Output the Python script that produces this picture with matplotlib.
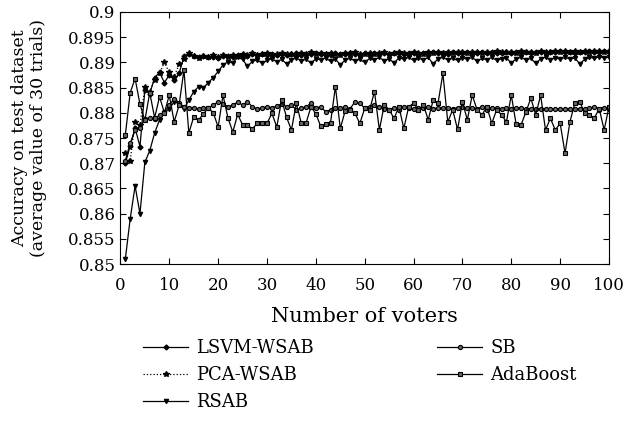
import matplotlib
matplotlib.use("Agg")
import matplotlib.pyplot as plt
from matplotlib.ticker import FuncFormatter

# number of voters 1..100
voters = list(range(1, 101))

lsvm_wsab = [
    0.8700, 0.8735, 0.8770, 0.8733, 0.8845, 0.8838, 0.8870, 0.8880, 0.8860, 0.8875,
    0.8865, 0.8878, 0.8912, 0.8917, 0.8912, 0.8910, 0.8912, 0.8910, 0.8911, 0.8908,
    0.8912, 0.8913, 0.8910, 0.8914, 0.8915, 0.8912, 0.8916, 0.8914, 0.8917, 0.8915,
    0.8916, 0.8914, 0.8917, 0.8915, 0.8916, 0.8918, 0.8915, 0.8917, 0.8916, 0.8918,
    0.8916, 0.8917, 0.8915, 0.8918, 0.8917, 0.8916, 0.8918, 0.8917, 0.8915, 0.8918,
    0.8917, 0.8919, 0.8916, 0.8918, 0.8917, 0.8919, 0.8918, 0.8916, 0.8919, 0.8918,
    0.8917, 0.8919, 0.8918, 0.8920, 0.8918, 0.8919, 0.8917, 0.8920, 0.8919, 0.8918,
    0.8920, 0.8919, 0.8918, 0.8920, 0.8919, 0.8921, 0.8919, 0.8918, 0.8920, 0.8919,
    0.8921, 0.8919, 0.8920, 0.8918, 0.8921, 0.8920, 0.8919, 0.8921, 0.8920, 0.8922,
    0.8920, 0.8921, 0.8919, 0.8921, 0.8920, 0.8922, 0.8921, 0.8920, 0.8922, 0.8921,
]

pca_wsab = [
    0.8720, 0.8705, 0.8782, 0.8775, 0.8852, 0.8842, 0.8866, 0.8878, 0.8900, 0.8880,
    0.8872, 0.8896, 0.8906, 0.8918, 0.8913, 0.8909, 0.8913, 0.8911, 0.8914, 0.8910,
    0.8914, 0.8911, 0.8915, 0.8913, 0.8916, 0.8914, 0.8918, 0.8915, 0.8916, 0.8918,
    0.8915, 0.8917, 0.8919, 0.8916, 0.8917, 0.8915, 0.8919, 0.8916, 0.8920, 0.8917,
    0.8918, 0.8916, 0.8919, 0.8917, 0.8915, 0.8919, 0.8918, 0.8920, 0.8917, 0.8916,
    0.8919, 0.8917, 0.8918, 0.8920, 0.8916, 0.8918, 0.8920, 0.8919, 0.8917, 0.8920,
    0.8919, 0.8917, 0.8920, 0.8918, 0.8921, 0.8919, 0.8920, 0.8918, 0.8921, 0.8920,
    0.8918, 0.8921, 0.8920, 0.8919, 0.8921, 0.8919, 0.8922, 0.8920, 0.8921, 0.8920,
    0.8919, 0.8922, 0.8920, 0.8921, 0.8919, 0.8922, 0.8921, 0.8920, 0.8922, 0.8921,
    0.8922, 0.8920, 0.8923, 0.8921, 0.8922, 0.8920, 0.8923, 0.8922, 0.8921, 0.8923,
]

rsab = [
    0.8510, 0.8590, 0.8655, 0.8600, 0.8702, 0.8725, 0.8760, 0.8786, 0.8800, 0.8808,
    0.8822, 0.8818, 0.8808, 0.8825, 0.8842, 0.8852, 0.8850, 0.8860, 0.8870, 0.8882,
    0.8895, 0.8901, 0.8899, 0.8910, 0.8906, 0.8892, 0.8902, 0.8905, 0.8898, 0.8904,
    0.8907, 0.8901, 0.8906, 0.8897, 0.8905, 0.8909, 0.8903, 0.8906, 0.8899, 0.8907,
    0.8905, 0.8909, 0.8902, 0.8907, 0.8895, 0.8905, 0.8908, 0.8903, 0.8906, 0.8900,
    0.8908, 0.8905, 0.8910, 0.8903, 0.8907, 0.8899, 0.8909, 0.8906, 0.8910, 0.8904,
    0.8908, 0.8905, 0.8910, 0.8897, 0.8907, 0.8910, 0.8905, 0.8908, 0.8904, 0.8909,
    0.8906, 0.8910, 0.8902, 0.8908, 0.8905, 0.8910, 0.8904, 0.8907, 0.8909, 0.8899,
    0.8907, 0.8910, 0.8905, 0.8908, 0.8898, 0.8907, 0.8910, 0.8905, 0.8909, 0.8906,
    0.8910, 0.8907, 0.8909, 0.8897, 0.8906, 0.8910, 0.8908, 0.8911, 0.8909, 0.8910,
]

sb = [
    0.8705, 0.8740, 0.8765, 0.8770, 0.8788, 0.8790, 0.8788, 0.8795, 0.8802, 0.8815,
    0.8828, 0.8820, 0.8812, 0.8810, 0.8810, 0.8808, 0.8810, 0.8810, 0.8815, 0.8822,
    0.8818, 0.8812, 0.8815, 0.8822, 0.8815, 0.8822, 0.8812, 0.8808, 0.8810, 0.8812,
    0.8810, 0.8813, 0.8818, 0.8812, 0.8815, 0.8806, 0.8809, 0.8812, 0.8819, 0.8809,
    0.8812, 0.8802, 0.8806, 0.8809, 0.8809, 0.8812, 0.8808, 0.8822, 0.8819, 0.8809,
    0.8812, 0.8815, 0.8812, 0.8808, 0.8806, 0.8809, 0.8805, 0.8812, 0.8810, 0.8808,
    0.8810, 0.8809, 0.8811, 0.8808, 0.8810, 0.8809, 0.8810, 0.8808, 0.8810, 0.8811,
    0.8809, 0.8810, 0.8808, 0.8812, 0.8806, 0.8809, 0.8810, 0.8808, 0.8809, 0.8808,
    0.8810, 0.8809, 0.8808, 0.8808, 0.8808, 0.8808, 0.8808, 0.8808, 0.8808, 0.8808,
    0.8808, 0.8808, 0.8808, 0.8808, 0.8808, 0.8809, 0.8812, 0.8806, 0.8810, 0.8808,
]

adaboost = [
    0.8756, 0.8840, 0.8868, 0.8817, 0.8785, 0.8840, 0.8790, 0.8832, 0.8800, 0.8835,
    0.8782, 0.8815, 0.8885, 0.8760, 0.8792, 0.8786, 0.8798, 0.8810, 0.8800, 0.8772,
    0.8835, 0.8790, 0.8762, 0.8797, 0.8776, 0.8776, 0.8768, 0.8779, 0.8779, 0.8779,
    0.8799, 0.8772, 0.8826, 0.8791, 0.8766, 0.8819, 0.8780, 0.8780, 0.8812, 0.8798,
    0.8773, 0.8777, 0.8780, 0.8852, 0.8769, 0.8804, 0.8805, 0.8799, 0.8779, 0.8809,
    0.8806, 0.8842, 0.8766, 0.8816, 0.8806, 0.8789, 0.8812, 0.8769, 0.8812, 0.8819,
    0.8806, 0.8816, 0.8786, 0.8825, 0.8819, 0.8878, 0.8782, 0.8806, 0.8767, 0.8822,
    0.8786, 0.8835, 0.8806, 0.8796, 0.8812, 0.8779, 0.8806, 0.8796, 0.8782, 0.8835,
    0.8777, 0.8776, 0.8802, 0.8829, 0.8796, 0.8835, 0.8766, 0.8789, 0.8766, 0.8779,
    0.8720, 0.8782, 0.8819, 0.8822, 0.8800, 0.8795, 0.8790, 0.8808, 0.8766, 0.8812,
]

plt.rcParams["font.family"] = ["DejaVu Serif"]
plt.rcParams["font.size"] = 13

fig = plt.figure(figsize=(6.24, 4.28), dpi=100)
ax = fig.add_axes([0.193, 0.383, 0.783, 0.589])

lw = 0.9
ax.plot(voters, lsvm_wsab, "-", color="black", lw=lw, marker="D", ms=2.5, label="LSVM-WSAB")
ax.plot(voters, pca_wsab, ":", color="black", lw=lw, marker="*", ms=4, label="PCA-WSAB")
ax.plot(voters, rsab, "-", color="black", lw=lw, marker="v", ms=3, label="RSAB")
ax.plot(voters, sb, "-", color="black", lw=lw, marker="o", ms=3, mfc="#666666", mec="black",
        mew=0.8, label="SB")
ax.plot(voters, adaboost, "-", color="black", lw=lw, marker="s", ms=3, mfc="#666666", mec="black",
        mew=0.8, label="AdaBoost")

ax.set_xlim(0, 100)
ax.set_ylim(0.85, 0.9)
ax.set_xticks(range(0, 101, 10))
ax.set_yticks([0.85 + 0.005 * i for i in range(11)])
ax.yaxis.set_major_formatter(FuncFormatter(lambda v, p: f"{round(v, 4):g}"))
ax.tick_params(direction="in", top=True, right=True, length=4, width=0.8, labelsize=12)
ax.tick_params(axis="x", pad=9)
for s in ax.spines.values():
    s.set_linewidth(0.8)

ax.set_xlabel("Number of voters", fontsize=15, labelpad=10)
ax.set_ylabel("Accuracy on test dataset\n(average value of 30 trials)", fontsize=12.5,
              linespacing=1.15, labelpad=15)

fig.legend(loc="upper left", bbox_to_anchor=(0.218, 0.225), borderaxespad=0, ncol=2,
           frameon=False, fontsize=13, numpoints=1, handlelength=2.5, columnspacing=6.8,
           labelspacing=0.5, handletextpad=0.45)

fig.savefig("out.png", dpi=100)
